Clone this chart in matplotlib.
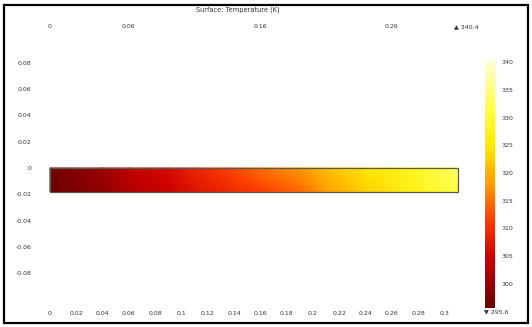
import numpy as np
import matplotlib
matplotlib.use('Agg')
import matplotlib.pyplot as plt
from matplotlib.colors import LinearSegmentedColormap
from matplotlib.patches import Rectangle

plt.rcParams.update({
    'font.family': 'DejaVu Sans',
    'font.size': 4.5,
    'xtick.labelsize': 4.5,
    'ytick.labelsize': 4.5,
})

# ── data ─────────────────────────────────────────────────────────────────────
TITLE = 'Surface: Temperature (K)'

# stations along the bar [m] and temperature on bottom / top edge [K]
x_st   = [0.0, 0.04, 0.06, 0.09, 0.11, 0.135, 0.16, 0.19, 0.21, 0.24, 0.27, 0.29, 0.31]
T_bot  = [295.6, 299.2, 302.3, 304.6, 306.8, 309.0, 311.3, 314.4, 318.0, 322.5, 326.1, 329.2, 331.4]
T_top  = [296.5, 300.0, 303.4, 305.9, 308.8, 311.6, 314.9, 317.7, 321.0, 324.5, 327.6, 330.3, 333.0]
y_edge = [-0.018, 0.0]

T_MIN, T_MAX = 295.6, 340.4
cb_ticks = [300, 305, 310, 315, 320, 325, 330, 335, 340]
x_ticks  = [0.0, 0.02, 0.04, 0.06, 0.08, 0.10, 0.12, 0.14, 0.16, 0.18, 0.20,
            0.22, 0.24, 0.26, 0.28, 0.30]
y_ticks  = [-0.08, -0.06, -0.04, -0.02, 0.0, 0.02, 0.04, 0.06, 0.08]
top_ticks = [0.0, 0.06, 0.16, 0.26]

cmap = LinearSegmentedColormap.from_list('thermal_light', [
    (0.00, '#6a0000'), (0.20, '#cc0000'), (0.35, '#ff3a00'),
    (0.50, '#ff9c00'), (0.65, '#ffe800'), (0.80, '#ffff45'),
    (1.00, '#ffffd8')])

# ── figure ────────────────────────────────────────────────────────────────────
W, H = 532, 327
fig = plt.figure(figsize=(W / 100, H / 100), dpi=100)

def px_box(x0, y0, x1, y1):
    return [x0 / W, 1 - y1 / H, (x1 - x0) / W, (y1 - y0) / H]

ax = fig.add_axes(px_box(40, 35, 468, 300))
X, Y = np.meshgrid(x_st, y_edge)
T = np.array([T_bot, T_top])
ax.pcolormesh(X, Y, T, cmap=cmap, vmin=T_MIN, vmax=T_MAX, shading='gouraud')
ax.add_patch(Rectangle((x_st[0], y_edge[0]), x_st[-1] - x_st[0],
                       y_edge[1] - y_edge[0], fill=False,
                       ec='#5a5a4a', lw=0.9))
ax.set_xlim((40 - 50) / 1315, (468 - 50) / 1315)
ax.set_ylim((168 - 300) / 1315, (168 - 35) / 1315)
ax.set_xticks(x_ticks)
ax.set_xticklabels([f'{v:g}' for v in x_ticks])
ax.set_yticks(y_ticks)
ax.set_yticklabels([f'{v:g}' for v in y_ticks])
for s in ax.spines.values():
    s.set_visible(False)
ax.tick_params(length=0, colors='#333333', pad=8)
ax.tick_params(axis='y', pad=6)

sec = ax.secondary_xaxis('top')
sec.set_xticks(top_ticks)
sec.set_xticklabels([f'{v:g}' for v in top_ticks])
sec.tick_params(length=0, colors='#333333', pad=4)
for s in sec.spines.values():
    s.set_visible(False)

fig.text(238 / W, 1 - 10 / H, TITLE, ha='center', va='center',
         fontsize=4.8, color='#333333')

# colorbar
cax = fig.add_axes(px_box(485, 60, 495, 308))
grad = np.linspace(T_MIN, T_MAX, 256).reshape(-1, 1)
cax.imshow(grad, aspect='auto', cmap=cmap, origin='lower',
           extent=[0, 1, T_MIN, T_MAX])
cax.set_xticks([])
cax.yaxis.tick_right()
cax.set_yticks(cb_ticks)
cax.set_yticklabels([str(v) for v in cb_ticks])
cax.tick_params(length=0, colors='#333333', pad=5)
for s in cax.spines.values():
    s.set_visible(False)

fig.text(466 / W, 1 - 27 / H, f'\u25b2 {T_MAX:.1f}', ha='center',
         va='center', fontsize=4.5, color='#333333')
fig.text(496 / W, 1 - 312 / H, f'\u25bc {T_MIN:.1f}', ha='center',
         va='center', fontsize=4.5, color='#333333')

# outer frame
fig.patches.append(Rectangle((4 / W, 4 / H), 524 / W, 318 / H,
                             transform=fig.transFigure, fill=False,
                             ec='black', lw=1.6))

fig.savefig('out.png', dpi=100, facecolor='white')
plt.close(fig)
